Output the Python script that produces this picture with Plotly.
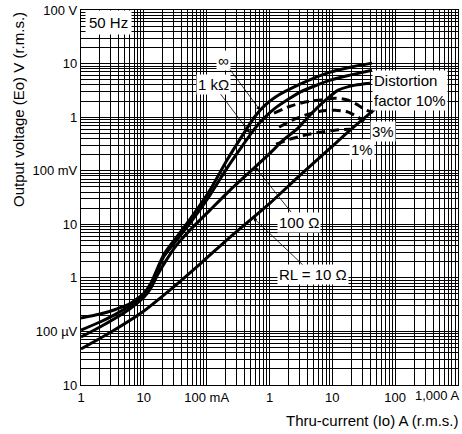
import math
import plotly.graph_objects as go

# ---- data (current in A, output voltage in V) ----
inf_i = [0.00100, 0.00201, 0.00335, 0.00625, 0.0101, 0.0130, 0.0168, 0.0210, 0.0314, 0.0545,
         0.113, 0.211, 0.340, 0.590, 0.851, 1.23, 3.07, 9.22, 19.2, 42.8]
inf_v = [1.78e-4, 2.11e-4, 2.51e-4, 3.39e-4, 5.20e-4, 8.00e-4, 1.59e-3, 2.78e-3, 5.30e-3, 1.25e-2,
         0.0435, 0.158, 0.389, 1.04, 1.67, 2.36, 4.13, 6.92, 8.57, 10.2]

k1_i = [0.00100, 0.00201, 0.00335, 0.00625, 0.0101, 0.0130, 0.0168, 0.0210, 0.0314, 0.0545,
        0.113, 0.211, 0.340, 0.590, 0.851, 1.23, 3.07, 9.22, 19.2, 42.8]
k1_v = [1.06e-4, 1.50e-4, 2.02e-4, 3.11e-4, 4.78e-4, 7.35e-4, 1.46e-3, 2.55e-3, 4.66e-3, 1.05e-2,
        0.0351, 0.112, 0.253, 0.624, 1.00, 1.47, 2.93, 4.90, 6.08, 7.53]

r100_i = [0.00100, 0.00201, 0.00335, 0.00625, 0.0101, 0.0130, 0.0168, 0.0218, 0.0314, 0.0545,
          0.113, 0.236, 0.590, 1.02, 1.65, 2.85, 3.97, 6.89, 12.4, 23.1, 39.7]
r100_v = [7.87e-5, 1.21e-4, 1.70e-4, 2.74e-4, 4.38e-4, 6.46e-4, 1.18e-3, 1.97e-3, 3.76e-3, 7.80e-3,
          0.0184, 0.0435, 0.117, 0.213, 0.372, 0.624, 0.957, 1.82, 3.19, 3.96, 4.31]

r10_i = [0.00100, 0.00301, 0.00902, 0.0271, 0.0815, 0.236, 1.02, 3.07, 9.22, 19.2, 49.8]
r10_v = [4.70e-5, 9.75e-5, 2.20e-4, 6.18e-4, 1.89e-3, 5.77e-3, 0.0249, 0.0828, 0.264, 0.572, 1.47]

d10_i = [1.18, 2.13, 3.69, 6.40, 11.1, 17.9, 25.8, 34.5, 44.7]
d10_v = [1.19, 1.60, 1.91, 2.08, 2.26, 2.08, 1.67, 1.35, 1.24]

d3_i = [1.42, 2.29, 3.69, 6.40, 11.1, 17.9, 25.8, 32.1]
d3_v = [0.650, 0.879, 1.09, 1.29, 1.35, 1.24, 1.00, 0.841]

d1_i = [1.27, 2.13, 3.69, 6.40, 11.1, 19.2]
d1_v = [0.313, 0.389, 0.461, 0.525, 0.572, 0.597]

x_tickvals = [0.001, 0.01, 0.1, 1, 10, 100, 1000]
x_ticktext = ["1", "10", "100 mA", "1", "10", "100", ""]
y_tickvals = [1e-5, 1e-4, 1e-3, 1e-2, 1e-1, 1, 10, 100]
y_ticktext = ["10", "100 µV", "1", "10", "100 mV", "1", "10", "100 V"]

FONT = "Liberation Sans, Arial, Helvetica, sans-serif"

fig = go.Figure()
solid = dict(color="black", width=3, shape="spline", smoothing=0.6)
for xs, ys in [(inf_i, inf_v), (k1_i, k1_v), (r100_i, r100_v), (r10_i, r10_v)]:
    fig.add_trace(go.Scatter(x=xs, y=ys, mode="lines", line=solid, hoverinfo="skip"))
dashed = dict(color="black", width=3, dash="9px,5px", shape="spline", smoothing=0.6)
for xs, ys in [(d10_i, d10_v), (d3_i, d3_v), (d1_i, d1_v)]:
    fig.add_trace(go.Scatter(x=xs, y=ys, mode="lines", line=dashed, hoverinfo="skip"))

minor_x = [m * 10 ** e for e in range(-3, 3) for m in range(2, 10)]
minor_y = [m * 10 ** e for e in range(-5, 2) for m in range(2, 10)]

axis_common = dict(
    type="log", showgrid=True, gridcolor="black", gridwidth=1.4,
    showline=True, linecolor="black", linewidth=1.2, mirror=True,
    ticks="", zeroline=False, automargin=False,
    tickfont=dict(family=FONT, size=13, color="black"),
)
fig.update_xaxes(range=[-3, 3], tickmode="array", tickvals=x_tickvals, ticktext=x_ticktext,
                 minor=dict(tickmode="array", tickvals=minor_x, showgrid=True,
                            gridcolor="black", gridwidth=0.8, ticks=""),
                 **axis_common)
fig.update_yaxes(range=[-5, 2], tickmode="array", tickvals=y_tickvals, ticktext=y_ticktext,
                 minor=dict(tickmode="array", tickvals=minor_y, showgrid=True,
                            gridcolor="black", gridwidth=0.8, ticks=""),
                 **axis_common)

W, H = 462, 434
L, R, T, B = 81, 4, 10, 49
pw, ph = W - L - R, H - T - B


def px(xp):
    return (xp - L) / pw


def py(yp):
    return (H - B - yp) / ph


ann = []
lab = dict(family=FONT, size=15, color="black")
free = dict(xref="paper", yref="paper", showarrow=False, yanchor="middle")
ann.append(dict(x=px(108), y=py(22), text="50 Hz", xanchor="center",
                font=lab, bgcolor="white", borderpad=3, **free))
ann.append(dict(x=px(372), y=py(91), text="Distortion<br>factor 10%",
                xanchor="left", align="left", font=lab, bgcolor="white", borderpad=1, **free))
ann.append(dict(x=px(383), y=py(131), text="3%", xanchor="center",
                font=lab, bgcolor="white", borderpad=1, **free))
ann.append(dict(x=px(362), y=py(150), text="1%", xanchor="center",
                font=lab, bgcolor="white", borderpad=1, **free))
ann.append(dict(x=px(461), y=py(395), text="1,000 A", xanchor="right",
                font=dict(family=FONT, size=13, color="black"), **free))
# axis titles
ann.append(dict(x=px(18), y=py(110), text="Output voltage (Eo) V (r.m.s.)", xanchor="center",
                textangle=-90, font=dict(family=FONT, size=15, color="black"), **free))
ann.append(dict(x=px(461), y=py(420), text="Thru-current (Io) A (r.m.s.)",
                xanchor="right", font=dict(family=FONT, size=15, color="black"), **free))

# leader labels (tip on curve, offset in pixels)
arrow = dict(showarrow=True, arrowhead=2, arrowsize=1, arrowwidth=0.8, arrowcolor="black",
             xref="x", yref="y", font=lab, bgcolor="white", borderpad=1)
ann.append(dict(x=math.log10(0.708), y=math.log10(1.35), ax=-37, ay=-50, text="∞", **arrow))
ann.append(dict(x=math.log10(0.491), y=math.log10(0.502), ax=-37, ay=-49, text="1 kΩ", **arrow))
ann.append(dict(x=math.log10(0.590), y=math.log10(0.117), ax=44, ay=55, text="100 Ω", **arrow))
ann.append(dict(x=math.log10(0.548), y=math.log10(0.0133), ax=60, ay=57, text="RL = 10 Ω", **arrow))

fig.update_layout(
    width=W, height=H, margin=dict(l=L, r=R, t=T, b=B),
    paper_bgcolor="white", plot_bgcolor="white", showlegend=False,
    annotations=ann, font=dict(family=FONT, color="black"),
)
fig.write_html("out.html")
